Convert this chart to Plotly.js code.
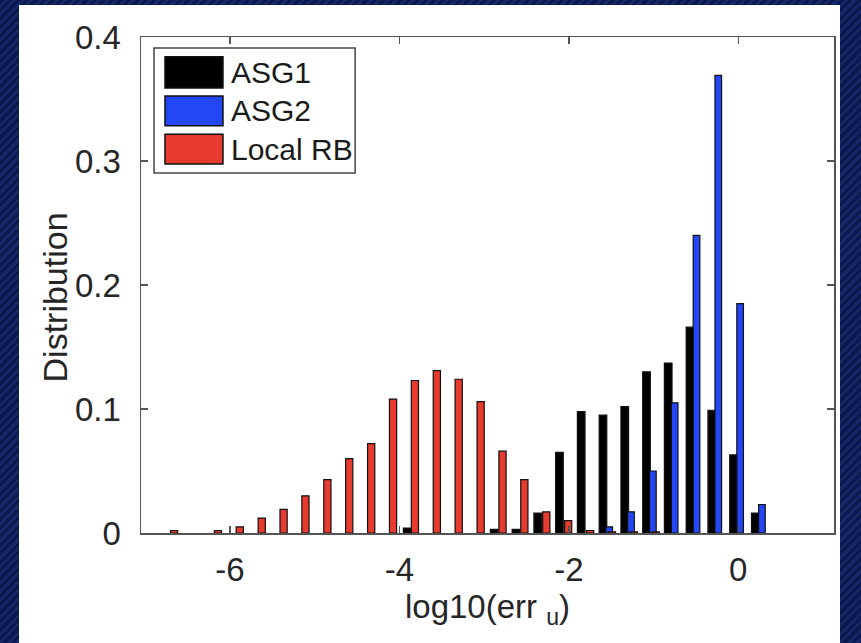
<!DOCTYPE html>
<html>
<head>
<meta charset="utf-8">
<script src="https://cdn.plot.ly/plotly-3.0.1.min.js"></script>
<style>
  html, body { margin: 0; padding: 0; width: 861px; height: 643px; overflow: hidden; }
  body { background: repeating-linear-gradient(135deg, #0b1a4c 0px, #0b1a4c 3px, #15296a 3px, #15296a 6px); position: relative; }
  #chart { position: absolute; left: 19px; top: 5px; width: 821px; height: 638px; background: #ffffff; }
</style>
</head>
<body>
<div id="chart"></div>
<script>
// Series names
const seriesNames = ["ASG1", "ASG2", "Local RB"];

// ASG1 (black) bin centres and distribution values
const asg1X = [-3.908, -2.881, -2.624, -2.367, -2.111, -1.854, -1.597, -1.340, -1.083, -0.827, -0.570, -0.313, -0.056, 0.201];
const asg1Y = [0.004, 0.003, 0.003, 0.016, 0.065, 0.098, 0.095, 0.102, 0.130, 0.137, 0.166, 0.099, 0.063, 0.016];

// ASG2 (blue)
const asg2X = [-1.523, -1.266, -1.008, -0.751, -0.493, -0.236, 0.022, 0.279];
const asg2Y = [0.005, 0.017, 0.050, 0.105, 0.240, 0.369, 0.185, 0.023];

// Local RB (red)
const rbX = [-6.659, -6.142, -5.884, -5.625, -5.367, -5.109, -4.850, -4.592, -4.333, -4.075, -3.817, -3.558, -3.300, -3.041, -2.783, -2.525, -2.266, -2.008, -1.749, -1.491, -1.233, -0.974];
const rbY = [0.002, 0.002, 0.005, 0.012, 0.019, 0.030, 0.043, 0.060, 0.072, 0.108, 0.123, 0.131, 0.124, 0.106, 0.066, 0.043, 0.017, 0.010, 0.002, 0.001, 0.001, 0.001];

// Tick labels and axis titles
const xTickVals = [-6, -4, -2, 0];
const xTickText = ["-6", "-4", "-2", "0"];
const yTickVals = [0, 0.1, 0.2, 0.3, 0.4];
const yTickText = ["0", "0.1", "0.2", "0.3", "0.4"];
const xTitle = "log10(err <sub>u</sub>)";
const yTitle = "Distribution";

const colors = ["#000000", "#2447f5", "#e83b2f"];
const edge = { color: "#111111", width: 1.2 };
const FONT = '"Liberation Sans", Arial, Helvetica, sans-serif';

const traces = [
  { type: "bar", name: seriesNames[0], x: asg1X, y: asg1Y, width: 0.09, marker: { color: colors[0], line: edge } },
  { type: "bar", name: seriesNames[1], x: asg2X, y: asg2Y, width: 0.078, marker: { color: colors[1], line: edge } },
  { type: "bar", name: seriesNames[2], x: rbX, y: rbY, width: 0.085, marker: { color: colors[2], line: edge } }
];

// manual legend (large swatches like the original)
const L = { x0: 0.0188, x1: 0.309, y0: 0.726, y1: 0.978 };
const sw = [
  { y0: 0.897, y1: 0.960 },
  { y0: 0.821, y1: 0.881 },
  { y0: 0.744, y1: 0.804 }
];
const shapes = [
  { type: "rect", xref: "paper", yref: "paper", x0: L.x0, x1: L.x1, y0: L.y0, y1: L.y1,
    line: { color: "#444444", width: 1.5 }, fillcolor: "#ffffff", layer: "above" }
];
const annotations = [];
sw.forEach((s, i) => {
  shapes.push({ type: "rect", xref: "paper", yref: "paper", x0: 0.0346, x1: 0.1183, y0: s.y0, y1: s.y1,
    line: { color: "#111111", width: 1.5 }, fillcolor: colors[i], layer: "above" });
  annotations.push({ xref: "paper", yref: "paper", x: 0.127, y: (s.y0 + s.y1) / 2, xanchor: "left", yanchor: "middle",
    text: seriesNames[i], showarrow: false, font: { family: FONT, size: 30, color: "#1a1a1a" } });
});
// y-axis title placed like the original (slightly below the axis centre)
annotations.push({ xref: "paper", yref: "paper", x: -0.124, y: 0.475, xanchor: "center", yanchor: "middle",
  textangle: -90, text: yTitle, showarrow: false, font: { family: FONT, size: 34, color: "#262626" } });

const axisCommon = {
  showgrid: false, zeroline: false, showline: true, linecolor: "#555555", linewidth: 1.5,
  mirror: "ticks", ticks: "inside", ticklen: 7, tickwidth: 1.5, tickcolor: "#555555",
  tickfont: { family: FONT, size: 33, color: "#262626" }, automargin: false
};

const layout = {
  width: 821, height: 638,
  margin: { l: 122, r: 6, t: 32, b: 110 },
  paper_bgcolor: "#ffffff", plot_bgcolor: "#ffffff",
  barmode: "overlay", showlegend: false,
  xaxis: Object.assign({}, axisCommon, {
    range: [-7.05, 1.13], tickmode: "array", tickvals: xTickVals, ticktext: xTickText,
    ticklabelstandoff: 7,
    title: { text: xTitle, font: { family: FONT, size: 33, color: "#262626" }, standoff: 2 }
  }),
  yaxis: Object.assign({}, axisCommon, {
    range: [0, 0.4], tickmode: "array", tickvals: yTickVals, ticktext: yTickText,
    ticklabelstandoff: 12
  }),
  shapes: shapes, annotations: annotations
};

Plotly.newPlot("chart", traces, layout, { staticPlot: true, displayModeBar: false });
</script>
</body>
</html>
